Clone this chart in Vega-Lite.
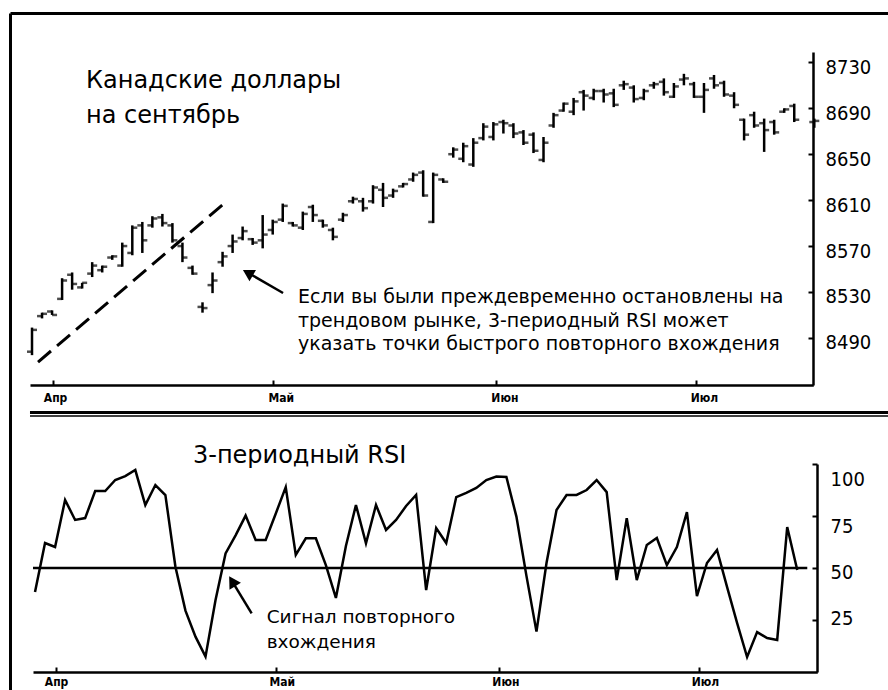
{
"$schema": "https://vega.github.io/schema/vega-lite/v6.json",
"width": 878, "height": 677,
"autosize": {"type": "none"},
"padding": {"left": 10, "top": 13, "right": 0, "bottom": 0},
"background": "white",
"config": {
  "view": {"stroke": null},
  "axis": {"domainColor": "black", "tickColor": "black", "labelColor": "black", "grid": false}
},
"datasets": {"bars": [
{"i":0,"o":8478,"h":8499,"l":8475,"c":8497,"r":38.5},
{"i":1,"o":8509,"h":8512,"l":8507,"c":8511,"r":62},
{"i":2,"o":8513,"h":8514,"l":8510,"c":8510,"r":60.1},
{"i":3,"o":8524,"h":8542,"l":8523,"c":8540,"r":82.7},
{"i":4,"o":8545,"h":8547,"l":8532,"c":8537,"r":73.1},
{"i":5,"o":8534,"h":8538,"l":8533,"c":8538,"r":74},
{"i":6,"o":8546,"h":8556,"l":8543,"c":8553,"r":87},
{"i":7,"o":8549,"h":8553,"l":8547,"c":8552,"r":87},
{"i":8,"o":8560,"h":8562,"l":8558,"c":8561,"r":92.3},
{"i":9,"o":8553,"h":8573,"l":8552,"c":8570,"r":94.2},
{"i":10,"o":8564,"h":8588,"l":8562,"c":8586,"r":97.1},
{"i":11,"o":8588,"h":8591,"l":8564,"c":8575,"r":80.3},
{"i":12,"o":8588,"h":8596,"l":8586,"c":8594,"r":89.9},
{"i":13,"o":8595,"h":8598,"l":8587,"c":8590,"r":85.1},
{"i":14,"o":8588,"h":8590,"l":8573,"c":8575,"r":50.6},
{"i":15,"o":8570,"h":8573,"l":8556,"c":8560,"r":29.5},
{"i":16,"o":8551,"h":8553,"l":8545,"c":8546,"r":17},
{"i":17,"o":8517,"h":8521,"l":8512,"c":8516,"r":7.4},
{"i":18,"o":8536,"h":8547,"l":8529,"c":8540,"r":34.6},
{"i":19,"o":8556,"h":8565,"l":8552,"c":8561,"r":57},
{"i":20,"o":8570,"h":8580,"l":8564,"c":8574,"r":65.7},
{"i":21,"o":8577,"h":8587,"l":8575,"c":8583,"r":75.2},
{"i":22,"o":8576,"h":8577,"l":8571,"c":8573,"r":63.5},
{"i":23,"o":8575,"h":8597,"l":8568,"c":8580,"r":63.5},
{"i":24,"o":8584,"h":8593,"l":8580,"c":8591,"r":76.1},
{"i":25,"o":8593,"h":8607,"l":8591,"c":8605,"r":88.9},
{"i":26,"o":8590,"h":8591,"l":8587,"c":8588,"r":56.3},
{"i":27,"o":8586,"h":8600,"l":8584,"c":8598,"r":64.3},
{"i":28,"o":8604,"h":8606,"l":8591,"c":8597,"r":64.3},
{"i":29,"o":8592,"h":8593,"l":8586,"c":8588,"r":51.4},
{"i":30,"o":8584,"h":8586,"l":8575,"c":8578,"r":35.6},
{"i":31,"o":8593,"h":8599,"l":8591,"c":8597,"r":60.6},
{"i":32,"o":8609,"h":8613,"l":8607,"c":8611,"r":80.3},
{"i":33,"o":8609,"h":8612,"l":8600,"c":8603,"r":61.9},
{"i":34,"o":8609,"h":8623,"l":8607,"c":8621,"r":80.3},
{"i":35,"o":8619,"h":8625,"l":8604,"c":8612,"r":68.3},
{"i":36,"o":8614,"h":8620,"l":8612,"c":8618,"r":73.1},
{"i":37,"o":8622,"h":8625,"l":8621,"c":8624,"r":79.8},
{"i":38,"o":8628,"h":8634,"l":8626,"c":8632,"r":85.1},
{"i":39,"o":8634,"h":8636,"l":8613,"c":8614,"r":39.4},
{"i":40,"o":8591,"h":8634,"l":8590,"c":8632,"r":69.2},
{"i":41,"o":8628,"h":8629,"l":8625,"c":8626,"r":62},
{"i":42,"o":8650,"h":8656,"l":8647,"c":8654,"r":84.1},
{"i":43,"o":8646,"h":8660,"l":8643,"c":8657,"r":86.1},
{"i":44,"o":8641,"h":8664,"l":8639,"c":8660,"r":88.5},
{"i":45,"o":8664,"h":8677,"l":8662,"c":8674,"r":92.3},
{"i":46,"o":8665,"h":8678,"l":8662,"c":8676,"r":94},
{"i":47,"o":8678,"h":8680,"l":8668,"c":8677,"r":93.8},
{"i":48,"o":8675,"h":8677,"l":8664,"c":8668,"r":74.7},
{"i":49,"o":8669,"h":8671,"l":8658,"c":8660,"r":46.2},
{"i":50,"o":8667,"h":8669,"l":8651,"c":8653,"r":19.4},
{"i":51,"o":8645,"h":8665,"l":8643,"c":8660,"r":52.4},
{"i":52,"o":8675,"h":8686,"l":8673,"c":8684,"r":77.9},
{"i":53,"o":8688,"h":8695,"l":8687,"c":8694,"r":85.1},
{"i":54,"o":8687,"h":8699,"l":8684,"c":8696,"r":85.1},
{"i":55,"o":8704,"h":8706,"l":8688,"c":8701,"r":87.5},
{"i":56,"o":8699,"h":8707,"l":8697,"c":8705,"r":92.3},
{"i":57,"o":8705,"h":8707,"l":8695,"c":8702,"r":86.5},
{"i":58,"o":8703,"h":8707,"l":8691,"c":8693,"r":44.2},
{"i":59,"o":8710,"h":8714,"l":8706,"c":8711,"r":74},
{"i":60,"o":8708,"h":8710,"l":8695,"c":8698,"r":44.2},
{"i":61,"o":8699,"h":8707,"l":8697,"c":8705,"r":61.1},
{"i":62,"o":8710,"h":8713,"l":8707,"c":8711,"r":64.4},
{"i":63,"o":8713,"h":8716,"l":8701,"c":8704,"r":51.4},
{"i":64,"o":8700,"h":8712,"l":8699,"c":8709,"r":60.1},
{"i":65,"o":8715,"h":8720,"l":8710,"c":8716,"r":76.9},
{"i":66,"o":8711,"h":8713,"l":8699,"c":8700,"r":36.5},
{"i":67,"o":8700,"h":8712,"l":8686,"c":8706,"r":52.4},
{"i":68,"o":8716,"h":8719,"l":8707,"c":8710,"r":58.7},
{"i":69,"o":8712,"h":8714,"l":8700,"c":8702,"r":40.9},
{"i":70,"o":8701,"h":8704,"l":8690,"c":8693,"r":23.6},
{"i":71,"o":8680,"h":8681,"l":8662,"c":8667,"r":7.2},
{"i":72,"o":8684,"h":8687,"l":8673,"c":8675,"r":19.2},
{"i":73,"o":8677,"h":8681,"l":8652,"c":8671,"r":16.3},
{"i":74,"o":8678,"h":8680,"l":8667,"c":8669,"r":15.4},
{"i":75,"o":8687,"h":8690,"l":8686,"c":8689,"r":69.7},
{"i":76,"o":8692,"h":8694,"l":8678,"c":8680,"r":49},
{"i":78,"o":8678,"h":8681,"l":8673,"c":8679}
]},
"layer": [
  {"data": {"values": [{}]},
   "mark": {"type": "rule", "opacity": 0},
   "encoding": {
     "x": {"datum": 0, "type": "quantitative", "scale": {"domain": [0, 1], "range": [0, 878], "nice": false, "zero": false},
       "axis": {"orient": "top", "offset": 0, "domainWidth": 3, "domainColor": "black", "ticks": false, "labels": false, "title": null}},
     "y": {"datum": 0, "type": "quantitative", "scale": {"domain": [0, 1], "range": [0, 677], "nice": false, "zero": false},
       "axis": {"orient": "left", "offset": 0, "domainWidth": 3, "domainColor": "black", "ticks": false, "labels": false, "title": null}}
   }},
  {"data": {"name": "bars"},
   "mark": {"type": "rule", "color": "black", "strokeWidth": 2.5},
   "encoding": {
     "x": {"field": "i", "type": "quantitative", "scale": {"domain": [-0.2, 77.9], "range": [20, 803.3], "nice": false, "zero": false},
       "axis": {"orient": "bottom", "offset": -305, "values": [2.1, 24, 46.3, 66.2], "labelExpr": "datum.value < 10 ? 'Апр' : datum.value < 30 ? 'Май' : datum.value < 50 ? 'Июн' : 'Июл'", "title": null, "tickSize": -5, "tickWidth": 2, "domainWidth": 2.5, "labelFont": "DejaVu Sans Condensed, sans-serif", "labelFontWeight": "bold", "labelFontSize": 12, "labelPadding": 12, "labelFlush": false, "labelOffset": {"condition": {"test": "datum.value > 10", "value": 8}, "value": 2}}},
     "y": {"field": "l", "type": "quantitative", "scale": {"domain": [8449, 8739], "range": [372, 39], "nice": false, "zero": false},
       "axis": {"orient": "right", "offset": -75, "values": [8490, 8530, 8570, 8610, 8650, 8690, 8730], "format": "d", "title": null, "tickSize": -5, "tickWidth": 2, "domainWidth": 2.5, "labelFont": "DejaVu Sans Condensed, sans-serif", "labelFontSize": 20, "labelPadding": 17, "labelOffset": 5}},
     "y2": {"field": "h"}
   }},
  {"data": {"name": "bars"},
   "mark": {"type": "tick", "orient": "horizontal", "color": "black", "size": 5, "thickness": 2.5, "xOffset": -2.5},
   "encoding": {
     "x": {"field": "i", "type": "quantitative", "scale": {"domain": [-0.2, 77.9], "range": [20, 803.3], "nice": false, "zero": false}, "axis": null},
     "y": {"field": "o", "type": "quantitative", "scale": {"domain": [8449, 8739], "range": [372, 39], "nice": false, "zero": false}, "axis": null}
   }},
  {"data": {"name": "bars"},
   "mark": {"type": "tick", "orient": "horizontal", "color": "black", "size": 5, "thickness": 2.5, "xOffset": 2.5},
   "encoding": {
     "x": {"field": "i", "type": "quantitative", "scale": {"domain": [-0.2, 77.9], "range": [20, 803.3], "nice": false, "zero": false}, "axis": null},
     "y": {"field": "c", "type": "quantitative", "scale": {"domain": [8449, 8739], "range": [372, 39], "nice": false, "zero": false}, "axis": null}
   }},
  {"data": {"values": [{}]},
   "mark": {"type": "rule", "color": "black", "strokeWidth": 3, "strokeDash": [17, 8]},
   "encoding": {
     "x": {"datum": 0.6, "type": "quantitative", "scale": {"domain": [-0.2, 77.9], "range": [20, 803.3], "nice": false, "zero": false}, "axis": null},
     "y": {"datum": 8469, "type": "quantitative", "scale": {"domain": [8449, 8739], "range": [372, 39], "nice": false, "zero": false}, "axis": null},
     "x2": {"datum": 19.54},
     "y2": {"datum": 8610}
   }},
  {"data": {"values": [{}]},
   "mark": {"type": "text", "color": "black", "font": "DejaVu Sans", "fontSize": 24, "align": "left", "baseline": "alphabetic", "lineHeight": 35},
   "encoding": {
     "x": {"datum": 5.38, "type": "quantitative", "scale": {"domain": [-0.2, 77.9], "range": [20, 803.3], "nice": false, "zero": false}, "axis": null},
     "y": {"datum": 8707.6, "type": "quantitative", "scale": {"domain": [8449, 8739], "range": [372, 39], "nice": false, "zero": false}, "axis": null},
     "text": {"value": ["Канадские доллары", "на сентябрь"]}
   }},
  {"data": {"values": [{}]},
   "mark": {"type": "text", "color": "black", "font": "DejaVu Sans", "fontSize": 19, "align": "left", "baseline": "alphabetic", "lineHeight": 23.5},
   "encoding": {
     "x": {"datum": 26.52, "type": "quantitative", "scale": {"domain": [-0.2, 77.9], "range": [20, 803.3], "nice": false, "zero": false}, "axis": null},
     "y": {"datum": 8520.4, "type": "quantitative", "scale": {"domain": [8449, 8739], "range": [372, 39], "nice": false, "zero": false}, "axis": null},
     "text": {"value": ["Если вы были преждевременно остановлены на", "трендовом рынке, 3-периодный RSI может", "указать точки быстрого повторного вхождения"]}
   }},
  {"data": {"values": [{}]},
   "mark": {"type": "rule", "color": "black", "strokeWidth": 2.5},
   "encoding": {
     "x": {"datum": 25.03, "type": "quantitative", "scale": {"domain": [-0.2, 77.9], "range": [20, 803.3], "nice": false, "zero": false}, "axis": null},
     "y": {"datum": 8529.1, "type": "quantitative", "scale": {"domain": [8449, 8739], "range": [372, 39], "nice": false, "zero": false}, "axis": null},
     "x2": {"datum": 21.52},
     "y2": {"datum": 8546.8}
   }},
  {"data": {"values": [{}]},
   "mark": {"type": "point", "shape": "triangle-up", "filled": true, "color": "black", "opacity": 1, "size": 170, "angle": 300},
   "encoding": {
     "x": {"datum": 21.52, "type": "quantitative", "scale": {"domain": [-0.2, 77.9], "range": [20, 803.3], "nice": false, "zero": false}, "axis": null},
     "y": {"datum": 8546.8, "type": "quantitative", "scale": {"domain": [8449, 8739], "range": [372, 39], "nice": false, "zero": false}, "axis": null}
   }},
  {"data": {"name": "bars"},
   "mark": {"type": "line", "color": "black", "strokeWidth": 2.5},
   "encoding": {
     "x": {"field": "i", "type": "quantitative", "scale": {"domain": [-0.2, 78], "range": [23, 807.3], "nice": false, "zero": false},
       "axis": {"orient": "bottom", "offset": -18, "values": [2.1, 24, 46.3, 66.2], "labelExpr": "datum.value < 10 ? 'Апр' : datum.value < 30 ? 'Май' : datum.value < 50 ? 'Июн' : 'Июл'", "title": null, "tickSize": -5, "tickWidth": 2, "domainWidth": 2.5, "labelFont": "DejaVu Sans Condensed, sans-serif", "labelFontWeight": "bold", "labelFontSize": 12, "labelPadding": 9, "labelFlush": false, "labelOffset": {"condition": {"test": "datum.value > 10", "value": 6}, "value": 0}}},
     "y": {"field": "r", "type": "quantitative", "scale": {"domain": [0, 100], "range": [659, 451], "nice": false, "zero": false},
       "axis": {"orient": "right", "offset": -71, "values": [25, 50, 75, 100], "title": null, "tickSize": -5, "tickWidth": 2, "domainWidth": 2.5, "labelFont": "DejaVu Sans Condensed, sans-serif", "labelFontSize": 20, "labelPadding": 18, "labelOffset": {"condition": [{"test": "datum.value == 100", "value": 15}, {"test": "datum.value == 75", "value": 10}, {"test": "datum.value == 50", "value": 4}], "value": -2}}}
   }},
  {"data": {"values": [{}]},
   "mark": {"type": "rule", "color": "black", "strokeWidth": 2.5},
   "encoding": {
     "x": {"datum": -0.2, "type": "quantitative", "scale": {"domain": [-0.2, 78], "range": [23, 807.3], "nice": false, "zero": false}, "axis": null},
     "y": {"datum": 50, "type": "quantitative", "scale": {"domain": [0, 100], "range": [659, 451], "nice": false, "zero": false}, "axis": null},
     "x2": {"datum": 77}
   }},
  {"data": {"values": [{}]},
   "mark": {"type": "rule", "color": "black", "strokeWidth": 3},
   "encoding": {
     "x": {"datum": -0.5, "type": "quantitative", "scale": {"domain": [-0.2, 78], "range": [23, 807.3], "nice": false, "zero": false}, "axis": null},
     "y": {"datum": 124.76, "type": "quantitative", "scale": {"domain": [0, 100], "range": [659, 451], "nice": false, "zero": false}, "axis": null},
     "x2": {"datum": 86}
   }},
  {"data": {"values": [{}]},
   "mark": {"type": "rule", "color": "black", "strokeWidth": 1.5},
   "encoding": {
     "x": {"datum": -0.5, "type": "quantitative", "scale": {"domain": [-0.2, 78], "range": [23, 807.3], "nice": false, "zero": false}, "axis": null},
     "y": {"datum": 123.08, "type": "quantitative", "scale": {"domain": [0, 100], "range": [659, 451], "nice": false, "zero": false}, "axis": null},
     "x2": {"datum": 86}
   }},
  {"data": {"values": [{}]},
   "mark": {"type": "text", "color": "black", "font": "DejaVu Sans", "fontSize": 24, "align": "left", "baseline": "alphabetic"},
   "encoding": {
     "x": {"datum": 15.75, "type": "quantitative", "scale": {"domain": [-0.2, 78], "range": [23, 807.3], "nice": false, "zero": false}, "axis": null},
     "y": {"datum": 100.5, "type": "quantitative", "scale": {"domain": [0, 100], "range": [659, 451], "nice": false, "zero": false}, "axis": null},
     "text": {"value": "3-периодный RSI"}
   }},
  {"data": {"values": [{}]},
   "mark": {"type": "text", "color": "black", "font": "DejaVu Sans", "fontSize": 18.5, "align": "left", "baseline": "alphabetic", "lineHeight": 25},
   "encoding": {
     "x": {"datum": 23.1, "type": "quantitative", "scale": {"domain": [-0.2, 78], "range": [23, 807.3], "nice": false, "zero": false}, "axis": null},
     "y": {"datum": 23.6, "type": "quantitative", "scale": {"domain": [0, 100], "range": [659, 451], "nice": false, "zero": false}, "axis": null},
     "text": {"value": ["Сигнал повторного", "вхождения"]}
   }},
  {"data": {"values": [{}]},
   "mark": {"type": "rule", "color": "black", "strokeWidth": 2.5},
   "encoding": {
     "x": {"datum": 21.6, "type": "quantitative", "scale": {"domain": [-0.2, 78], "range": [23, 807.3], "nice": false, "zero": false}, "axis": null},
     "y": {"datum": 28.2, "type": "quantitative", "scale": {"domain": [0, 100], "range": [659, 451], "nice": false, "zero": false}, "axis": null},
     "x2": {"datum": 19.66},
     "y2": {"datum": 43.6}
   }},
  {"data": {"values": [{}]},
   "mark": {"type": "point", "shape": "triangle-up", "filled": true, "color": "black", "opacity": 1, "size": 180, "angle": 328.5},
   "encoding": {
     "x": {"datum": 19.66, "type": "quantitative", "scale": {"domain": [-0.2, 78], "range": [23, 807.3], "nice": false, "zero": false}, "axis": null},
     "y": {"datum": 43.6, "type": "quantitative", "scale": {"domain": [0, 100], "range": [659, 451], "nice": false, "zero": false}, "axis": null}
   }}
],
"resolve": {"scale": {"x": "independent", "y": "independent"}, "axis": {"x": "independent", "y": "independent"}}
}
